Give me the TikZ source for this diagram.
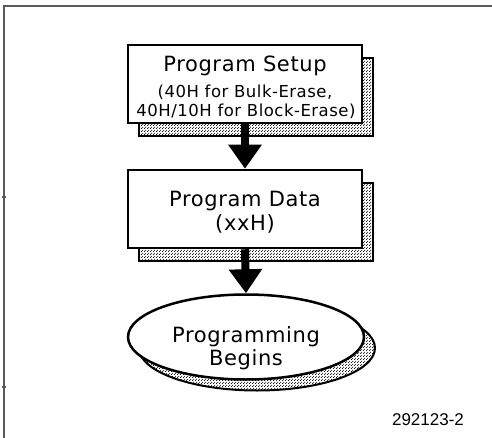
\documentclass[tikz,border=0pt]{standalone}
\usepackage{fontspec}
\setmainfont[LetterSpace=3]{DejaVu Sans}
\newfontfamily\codefont{Liberation Sans}
\usetikzlibrary{shapes.geometric,shadows,patterns,arrows.meta}

% fine stipple for the shadows
\pgfdeclarepatternformonly{stipple}{\pgfpointorigin}{\pgfqpoint{3pt}{3pt}}{\pgfqpoint{3pt}{3pt}}{%
  \pgfpathcircle{\pgfqpoint{0.75pt}{0.75pt}}{0.7pt}
  \pgfpathcircle{\pgfqpoint{2.25pt}{2.25pt}}{0.7pt}
  \pgfusepath{fill}}

\begin{document}
\begin{tikzpicture}[x=1pt,y=-1pt,
    frame/.style={draw=black!65,line width=1.5pt},
    stepshadow/.style={general shadow={shadow xshift=11pt,shadow yshift=-13pt,pattern=stipple,draw,line width=2pt}},
    stepbox/.style={draw,line width=2.5pt,fill=white,minimum width=234pt,minimum height=78pt,stepshadow},
    endoval/.style={ellipse,draw,line width=2.5pt,fill=white,minimum width=236pt,minimum height=85pt,
      general shadow={shadow xshift=11pt,shadow yshift=-11pt,pattern=stipple,draw,line width=2pt}},
    bigarrow/.style={line width=8pt,-{Triangle[width=32pt,length=24pt]}}]
    \useasboundingbox (0,0) rectangle (492,438);

    % outer frame with its small ticks
    \draw[frame] (4,438) -- (4,6) -- (492,6);
    \draw[frame] (2,197) -- (6,197);
    \draw[frame] (2,387) -- (6,387);

    \node[stepbox] (setup) at (245,84) {};
    \node[stepbox] (data) at (245,209) {};
    \node[endoval] (begin) at (246,337) {};

    % texts set line by line inside the shapes
    \node[font=\fontsize{21}{25}\selectfont,anchor=base] (setuptitle) at (245,72) {Program Setup};
    \node[font=\fontsize{16.5}{20}\selectfont,anchor=base] (setupbulk) at (245,98) {(40H for Bulk-Erase,};
    \node[font=\fontsize{16.5}{20}\selectfont,anchor=base] (setupblock) at (246,117) {40H/10H for Block-Erase)};
    \node[font=\fontsize{21}{25}\selectfont,anchor=base] (datatitle) at (245,207) {Program Data};
    \node[font=\fontsize{21}{25}\selectfont,anchor=base] (datavalue) at (245,231) {(xxH)};
    \node[font=\fontsize{21}{25}\selectfont,anchor=base] (begintop) at (246,342) {Programming};
    \node[font=\fontsize{21}{25}\selectfont,anchor=base] (beginlow) at (246,365) {Begins};

    \draw[bigarrow] (setup.south) -- (data.north);
    \draw[bigarrow] (data.south) -- (begin.north);

    \node[font=\codefont\fontsize{17}{20}\selectfont,anchor=base] (code) at (428,425) {292123-2};
\end{tikzpicture}
\end{document}
